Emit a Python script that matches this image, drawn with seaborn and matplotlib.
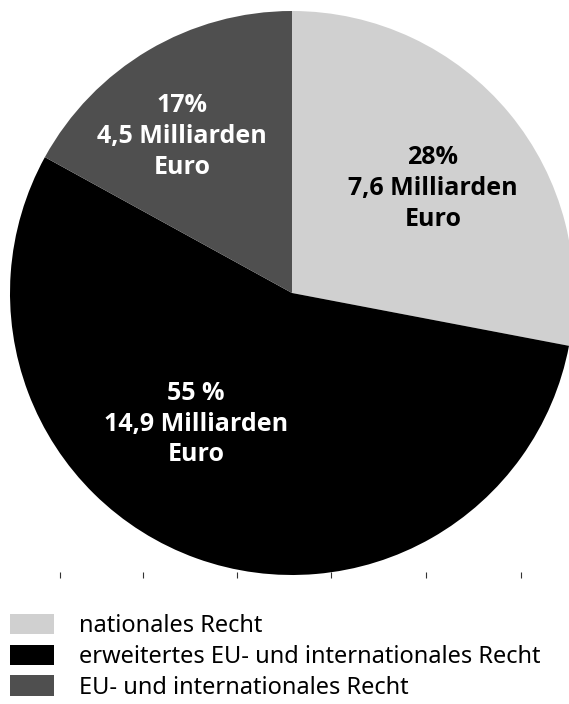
import numpy as np
import pandas as pd
import matplotlib
matplotlib.use('Agg')
import matplotlib.pyplot as plt
import seaborn as sns
from matplotlib.patches import Patch

# data
categories = ['nationales Recht', 'erweitertes EU- und internationales Recht', 'EU- und internationales Recht']
shares = [28, 55, 17]
amounts = ['7,6', '14,9', '4,5']
pct_labels = ['28%', '55 %', '17%']
colors = ['#d0d0d0', '#000000', '#4f4f4f']
text_colors = ['#000000', '#ffffff', '#ffffff']

# layout (label centres in pie units, tick marks under the pie)
label_pos = [(0.50, 0.37), (-0.34, -0.465), (-0.39, 0.555)]
tick_x = [-0.823, -0.528, -0.195, 0.138, 0.475, 0.812]

sns.set_theme(style='white')
plt.rcParams['font.family'] = ['Noto Sans', 'DejaVu Sans']

W, H = 569, 704
fig = plt.figure(figsize=(W / 100, H / 100), dpi=100)
cx, cy, r = 292, 293, 282
ax = fig.add_axes([(cx - r) / W, (H - cy - r) / H, 2 * r / W, 2 * r / H])

wedges, _ = ax.pie(shares, colors=colors, startangle=90, counterclock=False,
                   radius=1, center=(0, 0),
                   wedgeprops=dict(edgecolor='none', linewidth=0))
ax.set_xlim(-1, 1)
ax.set_ylim(-1, 1)
ax.set_aspect('equal')

for (x, y), pct, amt, tc in zip(label_pos, pct_labels, amounts, text_colors):
    ax.text(x, y, f'{pct}\n{amt} Milliarden\nEuro', ha='center', va='center',
            color=tc, fontsize=18, fontweight='bold', family='Open Sans',
            linespacing=1.3)

# small tick marks below the pie
for s in ['top', 'right', 'left', 'bottom']:
    ax.spines[s].set_visible(False)
ax.set_yticks([])
ax.set_xticks(tick_x)
ax.set_xticklabels([])
ax.tick_params(axis='x', which='both', bottom=True, direction='inout',
               length=4, width=0.8, color='#333333')

handles = [Patch(facecolor=c, edgecolor='none') for c in colors]
leg = fig.legend(handles, categories, loc='upper left', bbox_to_anchor=(3 / W, 1 - 607 / H),
                 frameon=False, fontsize=17, handlelength=1.85, handleheight=0.95,
                 handletextpad=1.05, labelspacing=0.27, borderaxespad=0, borderpad=0.3)
for t in leg.get_texts():
    t.set_color('black')

fig.savefig('out.png', dpi=100)
